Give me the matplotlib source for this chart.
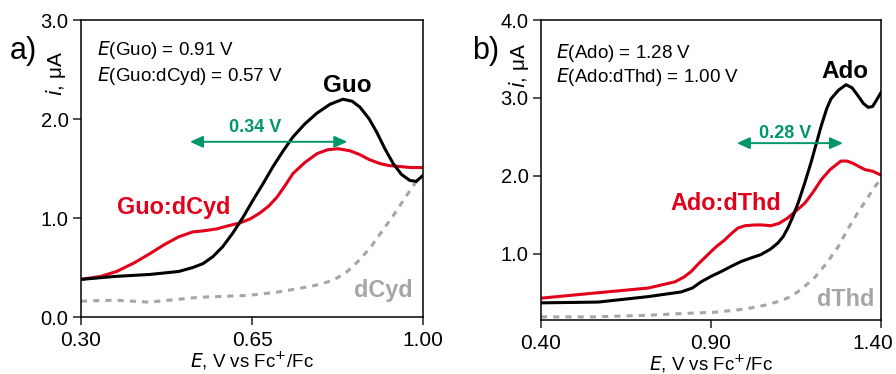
import numpy as np
import matplotlib.pyplot as plt
from matplotlib.transforms import ScaledTranslation

plt.rcParams['font.family'] = ['Liberation Sans', 'DejaVu Sans']

RED = '#e2001a'
GREEN = '#00966b'
GRAY = '#a6a6a6'

# panel a: Guo / Guo:dCyd / dCyd
guo_E = [0.30, 0.37, 0.441, 0.50, 0.529, 0.55, 0.57, 0.59, 0.611, 0.632, 0.652, 0.673, 0.693,
         0.714, 0.734, 0.758, 0.783, 0.81, 0.836, 0.855, 0.871, 0.89, 0.906, 0.922, 0.939,
         0.956, 0.973, 0.986, 1.00]
guo_i = [0.38, 0.41, 0.43, 0.46, 0.50, 0.54, 0.61, 0.71, 0.85, 1.01, 1.18, 1.35, 1.52,
         1.68, 1.82, 1.95, 2.06, 2.15, 2.20, 2.18, 2.12, 2.00, 1.86, 1.70, 1.55,
         1.44, 1.38, 1.37, 1.43]

mix_a_E = [0.30, 0.34, 0.373, 0.41, 0.441, 0.47, 0.50, 0.529, 0.55, 0.578, 0.60, 0.625, 0.646,
           0.666, 0.684, 0.701, 0.718, 0.734, 0.758, 0.783, 0.805, 0.826, 0.85, 0.871, 0.89,
           0.912, 0.93, 0.953, 0.975, 1.00]
mix_a_i = [0.38, 0.41, 0.46, 0.55, 0.64, 0.73, 0.81, 0.86, 0.87, 0.89, 0.92, 0.95, 0.99,
           1.05, 1.12, 1.21, 1.33, 1.45, 1.56, 1.65, 1.69, 1.70, 1.68, 1.64, 1.59,
           1.55, 1.53, 1.52, 1.51, 1.51]

dcyd_E = [0.30, 0.37, 0.44, 0.50, 0.544, 0.60, 0.646, 0.70, 0.748, 0.78, 0.816, 0.845, 0.871,
          0.895, 0.918, 0.94, 0.96, 0.975, 0.988, 1.00]
dcyd_i = [0.16, 0.17, 0.15, 0.18, 0.20, 0.21, 0.22, 0.25, 0.29, 0.32, 0.37, 0.46, 0.58,
          0.72, 0.88, 1.03, 1.18, 1.29, 1.38, 1.43]

# panel b: Ado / Ado:dThd / dThd
ado_E = [0.40, 0.568, 0.715, 0.812, 0.845, 0.871, 0.90, 0.929, 0.96, 0.988, 1.02, 1.047, 1.075,
         1.097, 1.112, 1.126, 1.14, 1.156, 1.175, 1.194, 1.21, 1.224, 1.24, 1.253, 1.275,
         1.297, 1.315, 1.332, 1.348, 1.362, 1.375, 1.385, 1.40]
ado_i = [0.37, 0.38, 0.45, 0.51, 0.56, 0.64, 0.71, 0.77, 0.84, 0.90, 0.95, 0.99, 1.06,
         1.14, 1.22, 1.33, 1.47, 1.65, 1.90, 2.17, 2.42, 2.64, 2.86, 2.99, 3.10,
         3.17, 3.13, 3.03, 2.93, 2.88, 2.89, 2.96, 3.07]

mix_b_E = [0.40, 0.568, 0.715, 0.794, 0.82, 0.841, 0.865, 0.891, 0.915, 0.941, 0.96, 0.979,
           1.00, 1.029, 1.05, 1.076, 1.10, 1.126, 1.15, 1.176, 1.20, 1.224, 1.25, 1.282,
           1.30, 1.318, 1.335, 1.353, 1.375, 1.40]
mix_b_i = [0.43, 0.50, 0.56, 0.64, 0.70, 0.77, 0.88, 0.99, 1.09, 1.18, 1.26, 1.33,
           1.36, 1.37, 1.37, 1.36, 1.39, 1.46, 1.55, 1.65, 1.79, 1.95, 2.08, 2.19,
           2.19, 2.16, 2.12, 2.08, 2.06, 2.01]

dthd_E = [0.40, 0.55, 0.715, 0.80, 0.912, 1.00, 1.059, 1.10, 1.135, 1.17, 1.206, 1.24, 1.274,
          1.30, 1.332, 1.355, 1.371, 1.385, 1.40]
dthd_i = [0.19, 0.19, 0.21, 0.23, 0.25, 0.29, 0.34, 0.39, 0.45, 0.56, 0.70, 0.88, 1.09,
          1.30, 1.53, 1.68, 1.79, 1.88, 1.96]

fig = plt.figure(figsize=(8.96, 3.74), dpi=100)
ax_a = fig.add_axes([0.0904, 0.1524, 0.3817, 0.794])
ax_b = fig.add_axes([0.6038, 0.1444, 0.3795, 0.802])

lw = 2.2
ax_a.plot(dcyd_E, dcyd_i, color=GRAY, lw=lw, dashes=(2, 2))
ax_a.plot(mix_a_E, mix_a_i, color=RED, lw=lw)
ax_a.plot(guo_E, guo_i, color='black', lw=lw)

ax_b.plot(dthd_E, dthd_i, color=GRAY, lw=lw, dashes=(2, 2))
ax_b.plot(mix_b_E, mix_b_i, color=RED, lw=lw)
ax_b.plot(ado_E, ado_i, color='black', lw=lw)

ax_a.set_xlim(0.30, 1.00)
ax_a.set_ylim(0.0, 3.0)
ax_a.set_xticks([0.30, 0.65, 1.00])
ax_a.set_yticks([0.0, 1.0, 2.0, 3.0])

ax_b.set_xlim(0.40, 1.40)
ax_b.set_ylim(0.15, 4.0)
ax_b.set_xticks([0.40, 0.90, 1.40])
ax_b.set_yticks([1.0, 2.0, 3.0, 4.0])

for ax in (ax_a, ax_b):
    ax.xaxis.set_major_formatter(plt.FormatStrFormatter('%.2f'))
    ax.yaxis.set_major_formatter(plt.FormatStrFormatter('%.1f'))
    ax.tick_params(direction='out', length=6, width=1.1, color='#222222')
    ax.tick_params(axis='x', labelsize=15, pad=4)
    ax.tick_params(axis='y', labelsize=14.5, pad=3)
    for s in ax.spines.values():
        s.set_linewidth(1.1)
    ax.set_xlabel('$\\it{E}$, V vs Fc$^{+}$/Fc', fontsize=13.5, labelpad=0)
    ax.set_ylabel('$\\it{i}$, μA', fontsize=15)

ax_a.yaxis.set_label_coords(-0.038, 0.82)
ax_b.yaxis.set_label_coords(-0.03, 0.85)

# last tick label of panel b sits slightly inside the figure edge
last = ax_b.get_xticklabels()[-1]
last.set_transform(last.get_transform() + ScaledTranslation(-0.08, 0, fig.dpi_scale_trans))

# arrows showing the potential shift
arrow = dict(arrowstyle='<|-|>,head_length=0.55,head_width=0.25', color=GREEN, lw=1.4,
             mutation_scale=14, shrinkA=0, shrinkB=0)
ax_a.annotate('', xy=(0.523, 1.77), xytext=(0.845, 1.77), arrowprops=arrow)
ax_a.text(0.656, 1.91, '0.34 V', color=GREEN, fontsize=13, fontweight='bold',
          ha='center', va='center')
ax_b.annotate('', xy=(0.976, 2.42), xytext=(1.288, 2.42), arrowprops=arrow)
ax_b.text(1.118, 2.55, '0.28 V', color=GREEN, fontsize=13, fontweight='bold',
          ha='center', va='center')

# curve labels
ax_a.text(0.846, 2.34, 'Guo', color='black', fontsize=17.5, fontweight='bold', ha='center', va='center')
ax_a.text(0.489, 1.11, 'Guo:dCyd', color=RED, fontsize=16.8, fontweight='bold', ha='center', va='center')
ax_a.text(0.918, 0.27, 'dCyd', color=GRAY, fontsize=16.8, fontweight='bold', ha='center', va='center')
ax_b.text(1.294, 3.34, 'Ado', color='black', fontsize=17.5, fontweight='bold', ha='center', va='center')
ax_b.text(0.944, 1.65, 'Ado:dThd', color=RED, fontsize=16.8, fontweight='bold', ha='center', va='center')
ax_b.text(1.297, 0.41, 'dThd', color=GRAY, fontsize=16.8, fontweight='bold', ha='center', va='center')

# oxidation potentials
ax_a.text(0.047, 0.90, '$\\it{E}$(Guo) = 0.91 V', transform=ax_a.transAxes, fontsize=13.5, va='center')
ax_a.text(0.047, 0.81, '$\\it{E}$(Guo:dCyd) = 0.57 V', transform=ax_a.transAxes, fontsize=13.5, va='center')
ax_b.text(0.044, 0.89, '$\\it{E}$(Ado) = 1.28 V', transform=ax_b.transAxes, fontsize=13.5, va='center')
ax_b.text(0.044, 0.81, '$\\it{E}$(Ado:dThd) = 1.00 V', transform=ax_b.transAxes, fontsize=13.5, va='center')

fig.text(23 / 896, 1 - 51 / 374, 'a)', fontsize=22, ha='center', va='center')
fig.text(486 / 896, 1 - 51 / 374, 'b)', fontsize=22, ha='center', va='center')

fig.savefig('out.png', dpi=100)
